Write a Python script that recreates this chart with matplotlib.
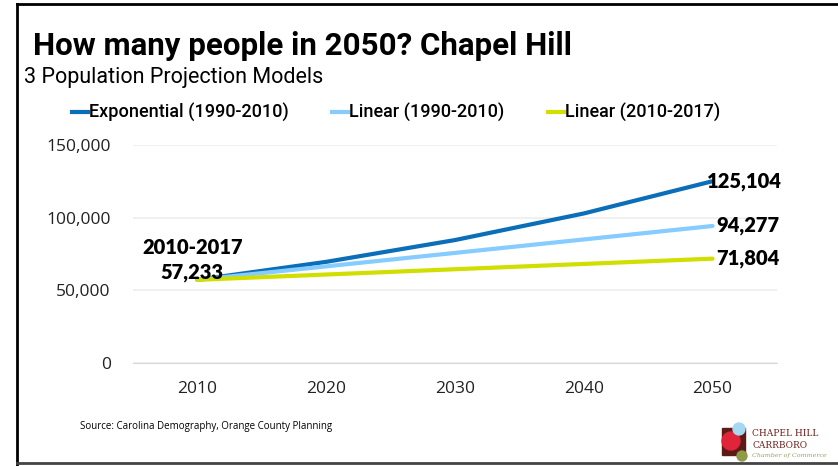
import matplotlib.pyplot as plt
from matplotlib.patches import Rectangle, Circle
from matplotlib.lines import Line2D

years = [2010, 2020, 2030, 2040, 2050]
exponential = [57233, 69600, 84600, 102900, 125104]
linear_1990 = [57233, 66494, 75755, 85016, 94277]
linear_2010 = [57233, 60876, 64519, 68161, 71804]
series_names = ["Exponential (1990-2010)", "Linear (1990-2010)", "Linear (2010-2017)"]
colors = ["#0A6EB8", "#86CCFF", "#D0DF00"]
y_ticks = [0, 50000, 100000, 150000]

fig = plt.figure(figsize=(8.38, 4.66), dpi=100)
ax = fig.add_axes([133/838, 1-363/466, 644/838, (363-145)/466])

for vals, c, name in zip([exponential, linear_1990, linear_2010], colors, series_names):
    ax.plot(years, vals, color=c, lw=3, solid_capstyle="round", label=name)

ax.set_xlim(2005, 2055)
ax.set_ylim(0, 150000)
ax.set_yticks(y_ticks)
ax.set_yticklabels([f"{v:,}" for v in y_ticks], fontsize=12.5, family="Open Sans", color="#222222")
ax.set_xticks(years)
ax.set_xticklabels([str(y) for y in years], fontsize=12.5, family="Open Sans", color="#222222")
ax.tick_params(length=0, pad=13, axis="x")
ax.tick_params(length=0, pad=16, axis="y")
ax.grid(axis="y", color="#eeeeee", lw=1.2)
ax.set_axisbelow(True)
for s in ["top", "right", "left"]:
    ax.spines[s].set_visible(False)
ax.spines["bottom"].set_color("#d9d9d9")

# end labels
lab_font = dict(family="Lato", fontweight="heavy", fontsize=14.5, color="black")
ax.text(2049.6, exponential[-1], f"{exponential[-1]:,}", ha="left", va="center", **lab_font)
ax.text(2050.3, linear_1990[-1], f"{linear_1990[-1]:,}", ha="left", va="center", **lab_font)
ax.text(2050.3, linear_2010[-1], f"{linear_2010[-1]:,}", ha="left", va="center", **lab_font)
ax.text(2009.6, 55500, f"2010-2017\n{57233:,}", ha="center", va="bottom",
        multialignment="center", linespacing=1.35, **lab_font)

# legend
handles = [Line2D([0], [0], color=c, lw=3) for c in colors]
fig.legend(handles, series_names, loc="center", bbox_to_anchor=(396/838, 1-113/466),
           ncol=3, frameon=False, handlelength=0.9, handletextpad=0.05, columnspacing=2.4,
           prop=dict(family="Roboto", weight="medium", size=13))

fig.text(33/838, 1-46/466, "How many people in 2050? Chapel Hill", fontsize=22.5,
         fontweight="bold", family="Roboto", va="center", ha="left")
fig.text(24/838, 1-78/466, "3 Population Projection Models", fontsize=15.5,
         family="Roboto", va="center", ha="left")
fig.text(80/838, 1-427/466, "Source: Carolina Demography, Orange County Planning", fontsize=7,
         family="Open Sans", va="center", ha="left")

# border
fig.add_artist(Line2D([17/838, 17/838], [0, 1-4/466], color="black", lw=2))
fig.add_artist(Line2D([17/838, 1], [1-4/466, 1-4/466], color="black", lw=2))
fig.add_artist(Line2D([17/838, 1], [1-463/466, 1-463/466], color="#444444", lw=2))

# logo
lax = fig.add_axes([715/838, 0, 123/838, 50/466])
lax.set_xlim(715, 838)
lax.set_ylim(466, 416)
lax.axis("off")
lax.add_patch(Rectangle((722, 428), 23, 27, color="#5E1A14"))
lax.add_patch(Circle((731, 441), 9, color="#E0243A"))
lax.add_patch(Circle((739, 429), 6, color="#A6D8F2"))
lax.add_patch(Circle((742, 456), 5, color="#8E9A48"))
lax.text(752, 434, "CHAPEL HILL", fontsize=6.5, family="DejaVu Serif", color="#6B1F1A", va="center")
lax.text(752, 445, "CARRBORO", fontsize=6.5, family="DejaVu Serif", color="#6B1F1A", va="center")
lax.text(752, 455, "Chamber of Commerce", fontsize=4.6, family="DejaVu Serif", style="italic",
         color="#9AA060", va="center")

fig.savefig("out.png", dpi=100)
